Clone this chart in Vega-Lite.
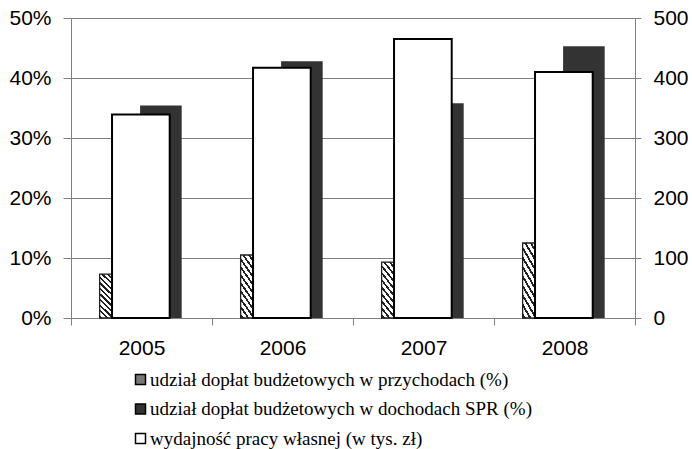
{
  "$schema": "https://vega.github.io/schema/vega-lite/v6.json",
  "width": 564,
  "height": 300,
  "autosize": {"type": "none"},
  "padding": {"left": 71, "top": 18, "right": 57, "bottom": 131},
  "background": "white",
  "config": {
    "view": {"stroke": null},
    "axis": {
      "labelFont": "Liberation Sans",
      "labelFontSize": 21,
      "labelColor": "black",
      "domainColor": "#808080",
      "tickColor": "#808080",
      "gridColor": "#808080",
      "gridOpacity": 1
    },
    "legend": {
      "symbolType": "square",
      "symbolSize": 100,
      "symbolStrokeColor": "black",
      "symbolStrokeWidth": 1.5,
      "labelFont": "Liberation Serif",
      "labelFontSize": 19,
      "labelColor": "black",
      "labelLimit": 600,
      "rowPadding": 9.5,
      "labelOffset": 0,
      "padding": 0
    }
  },
  "data": {
    "values": [
      {"rok": "2005", "przychody": 7.3, "dochody": 35.4, "wydajnosc": 339},
      {"rok": "2006", "przychody": 10.5, "dochody": 42.8, "wydajnosc": 417},
      {"rok": "2007", "przychody": 9.3, "dochody": 35.8, "wydajnosc": 465},
      {"rok": "2008", "przychody": 12.5, "dochody": 45.3, "wydajnosc": 410}
    ]
  },
  "layer": [
    {
      "mark": {"type": "bar"},
      "encoding": {
        "x": {"field": "rok", "type": "ordinal", "bandPosition": 0.203, "scale": {"paddingInner": 0, "paddingOuter": 0},
              "axis": {"title": null, "labelAngle": 0, "tickBand": "extent", "tickSize": 7, "labelPadding": 12}},
        "x2": {"field": "rok", "bandPosition": 0.291},
        "y": {"field": "przychody", "type": "quantitative", "scale": {"domain": [0, 50], "nice": false},
              "axis": {"title": null, "values": [0, 10, 20, 30, 40, 50], "labelExpr": "datum.value + '%'", "grid": true, "tickSize": 8, "labelPadding": 12}},
        "y2": {"datum": 0},
        "color": {"datum": "udział dopłat budżetowych w przychodach (%)", "type": "nominal",
                  "scale": {"domain": ["udział dopłat budżetowych w przychodach (%)", "udział dopłat budżetowych w dochodach SPR (%)", "wydajność pracy własnej (w tys. zł)"],
                            "range": ["#777777", "#333333", "#ffffff"]},
                  "legend": {"title": null, "orient": "none", "legendX": 60, "legendY": 352, "direction": "vertical"}}
      }
    },
    {
      "mark": {
        "type": "bar",
        "stroke": "#222222",
        "strokeWidth": 1.3,
        "fill": {
          "gradient": "linear",
          "x1": 1, "y1": 0, "x2": 0.636, "y2": 1.3,
          "stops": [
            {"offset": 0, "color": "#ffffff"}, {"offset": 0.05, "color": "#ffffff"},
            {"offset": 0.05, "color": "#222222"}, {"offset": 0.085, "color": "#222222"},
            {"offset": 0.085, "color": "#ffffff"}, {"offset": 0.14, "color": "#ffffff"},
            {"offset": 0.14, "color": "#222222"}, {"offset": 0.175, "color": "#222222"},
            {"offset": 0.175, "color": "#ffffff"}, {"offset": 0.23, "color": "#ffffff"},
            {"offset": 0.23, "color": "#222222"}, {"offset": 0.265, "color": "#222222"},
            {"offset": 0.265, "color": "#ffffff"}, {"offset": 0.32, "color": "#ffffff"},
            {"offset": 0.32, "color": "#222222"}, {"offset": 0.355, "color": "#222222"},
            {"offset": 0.355, "color": "#ffffff"}, {"offset": 0.41, "color": "#ffffff"},
            {"offset": 0.41, "color": "#222222"}, {"offset": 0.445, "color": "#222222"},
            {"offset": 0.445, "color": "#ffffff"}, {"offset": 0.5, "color": "#ffffff"},
            {"offset": 0.5, "color": "#222222"}, {"offset": 0.535, "color": "#222222"},
            {"offset": 0.535, "color": "#ffffff"}, {"offset": 0.59, "color": "#ffffff"},
            {"offset": 0.59, "color": "#222222"}, {"offset": 0.625, "color": "#222222"},
            {"offset": 0.625, "color": "#ffffff"}, {"offset": 0.68, "color": "#ffffff"},
            {"offset": 0.68, "color": "#222222"}, {"offset": 0.715, "color": "#222222"},
            {"offset": 0.715, "color": "#ffffff"}, {"offset": 0.77, "color": "#ffffff"},
            {"offset": 0.77, "color": "#222222"}, {"offset": 0.805, "color": "#222222"},
            {"offset": 0.805, "color": "#ffffff"}, {"offset": 0.86, "color": "#ffffff"},
            {"offset": 0.86, "color": "#222222"}, {"offset": 0.895, "color": "#222222"},
            {"offset": 0.895, "color": "#ffffff"}, {"offset": 0.95, "color": "#ffffff"},
            {"offset": 0.95, "color": "#222222"}, {"offset": 0.985, "color": "#222222"},
            {"offset": 0.985, "color": "#ffffff"}, {"offset": 1, "color": "#ffffff"}
          ]
        }
      },
      "encoding": {
        "x": {"field": "rok", "type": "ordinal", "bandPosition": 0.203, "axis": {"title": null, "labelAngle": 0, "tickBand": "extent", "tickSize": 7, "labelPadding": 12}},
        "x2": {"field": "rok", "bandPosition": 0.291},
        "y": {"field": "przychody", "type": "quantitative", "scale": {"domain": [0, 50], "nice": false}, "axis": null},
        "y2": {"datum": 0}
      }
    },
    {
      "mark": {"type": "bar"},
      "encoding": {
        "x": {"field": "rok", "type": "ordinal", "bandPosition": 0.49, "axis": {"title": null, "labelAngle": 0, "tickBand": "extent", "tickSize": 7, "labelPadding": 12}},
        "x2": {"field": "rok", "bandPosition": 0.785},
        "y": {"field": "dochody", "type": "quantitative", "scale": {"domain": [0, 50], "nice": false}, "axis": null},
        "y2": {"datum": 0},
        "color": {"datum": "udział dopłat budżetowych w dochodach SPR (%)", "type": "nominal",
                  "scale": {"domain": ["udział dopłat budżetowych w przychodach (%)", "udział dopłat budżetowych w dochodach SPR (%)", "wydajność pracy własnej (w tys. zł)"],
                            "range": ["#777777", "#333333", "#ffffff"]},
                  "legend": {"title": null, "orient": "none", "legendX": 60, "legendY": 352, "direction": "vertical"}}
      }
    },
    {
      "mark": {"type": "bar", "stroke": "black", "strokeWidth": 2},
      "encoding": {
        "x": {"field": "rok", "type": "ordinal", "bandPosition": 0.291, "axis": {"title": null, "labelAngle": 0, "tickBand": "extent", "tickSize": 7, "labelPadding": 12}},
        "x2": {"field": "rok", "bandPosition": 0.7},
        "y": {"field": "wydajnosc", "type": "quantitative", "scale": {"domain": [0, 500], "nice": false},
              "axis": {"title": null, "orient": "right", "values": [0, 100, 200, 300, 400, 500], "grid": false, "tickSize": 6, "labelPadding": 12}},
        "y2": {"datum": 0},
        "color": {"datum": "wydajność pracy własnej (w tys. zł)", "type": "nominal",
                  "scale": {"domain": ["udział dopłat budżetowych w przychodach (%)", "udział dopłat budżetowych w dochodach SPR (%)", "wydajność pracy własnej (w tys. zł)"],
                            "range": ["#777777", "#333333", "#ffffff"]},
                  "legend": {"title": null, "orient": "none", "legendX": 60, "legendY": 352, "direction": "vertical"}}
      }
    }
  ],
  "resolve": {"scale": {"y": "independent"}}
}
